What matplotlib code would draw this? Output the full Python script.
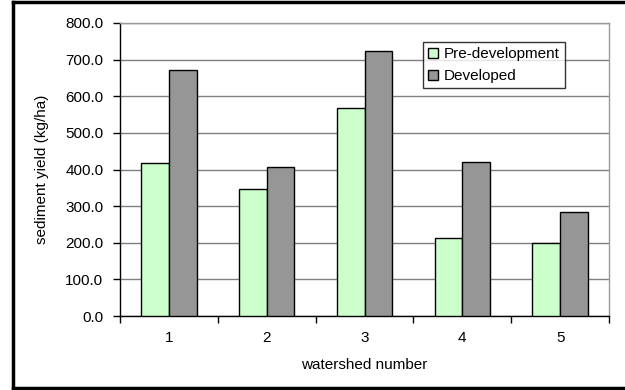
import numpy as np
import matplotlib.pyplot as plt
from matplotlib.lines import Line2D

plt.rcParams['font.family'] = ['Liberation Sans', 'DejaVu Sans']

watersheds = ['1', '2', '3', '4', '5']
pre_development = [417, 346, 567, 214, 200]
developed = [672, 406, 724, 420, 284]
y_ticks = [0, 100, 200, 300, 400, 500, 600, 700, 800]

fs = 11

fig = plt.figure(figsize=(6.25, 3.9), dpi=100)
ax = fig.add_axes([120 / 625, 1 - 316 / 390, (609 - 120) / 625, (316 - 23) / 390])

x = np.arange(len(watersheds))
w = 0.283
ax.bar(x - w / 2, pre_development, w, color='#ccffcc', edgecolor='black', linewidth=1,
       label='Pre-development', zorder=3)
ax.bar(x + w / 2, developed, w, color='#969696', edgecolor='black', linewidth=1,
       label='Developed', zorder=3)

ax.set_xlim(-0.5, len(watersheds) - 0.5)
ax.set_ylim(0, 800)
ax.set_yticks(y_ticks)
ax.set_yticklabels([f'{v:.1f}' for v in y_ticks], fontsize=fs)
ax.yaxis.grid(True, color='#808080', linewidth=1, zorder=0)

# category labels in the middle, tick marks on the boundaries
ax.set_xticks(x)
ax.set_xticklabels(watersheds, fontsize=fs)
ax.tick_params(axis='x', length=0, pad=11)
ax.set_xticks(np.arange(-0.5, len(watersheds)), minor=True)
ax.tick_params(axis='x', which='minor', length=5, width=1, direction='out')
ax.tick_params(axis='y', length=5, width=1, direction='out', pad=7)

for side in ['top', 'right']:
    ax.spines[side].set_color('#999999')
    ax.spines[side].set_linewidth(1)
for side in ['left', 'bottom']:
    ax.spines[side].set_color('black')
    ax.spines[side].set_linewidth(1)

ax.set_xlabel('watershed number', fontsize=fs, labelpad=9)
ax.set_ylabel('sediment yield (kg/ha)', fontsize=fs, labelpad=12)

leg = ax.legend(loc='upper left', bbox_to_anchor=((423 - 120) / 489, 1 - (42 - 23) / 293),
                fontsize=fs, frameon=True, fancybox=False, edgecolor='black',
                handlelength=0.65, handleheight=0.65, handletextpad=0.35,
                borderpad=0.35, labelspacing=0.5, borderaxespad=0)
leg.get_frame().set_linewidth(1)

# chart border: top, left and bottom edges, the right side runs off the page
bx0, by0, by1 = 13 / 625, 2 / 390, 388 / 390
for xs, ys in [([bx0, 1.0], [by1, by1]), ([bx0, bx0], [by0, by1]), ([bx0, 1.0], [by0, by0])]:
    fig.add_artist(Line2D(xs, ys, transform=fig.transFigure, color='black',
                          linewidth=2.5, solid_capstyle='projecting'))

fig.savefig('out.png', dpi=100)
